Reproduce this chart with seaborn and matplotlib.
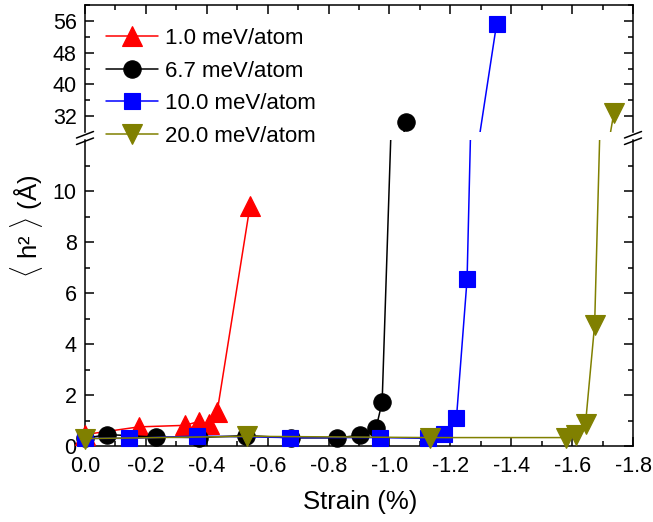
import matplotlib
matplotlib.use("Agg")
import matplotlib.pyplot as plt
import seaborn as sns
import pandas as pd
from matplotlib.lines import Line2D
from matplotlib.ticker import FixedLocator

# ---------------- data ----------------
series_labels = ["1.0 meV/atom", "6.7 meV/atom", "10.0 meV/atom", "20.0 meV/atom"]

red_x = [0.0, -0.177, -0.328, -0.374, -0.407, -0.434, -0.542]
red_y = [0.45, 0.75, 0.81, 0.96, 0.87, 1.33, 9.42]

black_x = [0.0, -0.073, -0.232, -0.374, -0.529, -0.677, -0.828, -0.904, -0.956, -0.976, -1.055]
black_y = [0.30, 0.45, 0.35, 0.33, 0.41, 0.32, 0.32, 0.42, 0.70, 1.72, 30.6]

blue_x = [0.0, -0.144, -0.368, -0.674, -0.970, -1.125, -1.180, -1.220, -1.255, -1.352]
blue_y = [0.30, 0.30, 0.39, 0.33, 0.33, 0.30, 0.49, 1.08, 6.54, 55.26]

olive_x = [0.0, -0.532, -1.134, -1.580, -1.614, -1.644, -1.674, -1.737]
olive_y = [0.29, 0.38, 0.33, 0.33, 0.45, 0.87, 4.76, 32.75]

x_ticks = [0.0, -0.2, -0.4, -0.6, -0.8, -1.0, -1.2, -1.4, -1.6, -1.8]
x_tick_labels = ["0.0", "-0.2", "-0.4", "-0.6", "-0.8", "-1.0", "-1.2", "-1.4", "-1.6", "-1.8"]
x_minor = [-0.1, -0.3, -0.5, -0.7, -0.9, -1.1, -1.3, -1.5, -1.7]
y_low_ticks = [0, 2, 4, 6, 8, 10]
y_low_minor = [1, 3, 5, 7, 9, 11]
y_high_ticks = [32, 40, 48, 56]
y_high_minor = [36, 44, 52, 60]

colors = ["#FF0000", "#000000", "#0000FF", "#808000"]
markers = ["^", "o", "s", "v"]
msizes = [15, 12.5, 11.5, 15]

# ---------------- style ----------------
sns.set_theme(style="ticks")
plt.rcParams["font.family"] = ["Liberation Sans", "DejaVu Sans"]
plt.rcParams["mathtext.fontset"] = "custom"
plt.rcParams["mathtext.rm"] = "Liberation Sans"
plt.rcParams["axes.unicode_minus"] = False
for k in ("text.color", "axes.labelcolor", "xtick.color", "ytick.color", "axes.edgecolor"):
    plt.rcParams[k] = "black"

W, H = 653, 522
fig = plt.figure(figsize=(W / 100, H / 100), dpi=100)


def fx(px):
    return px / W


def fy(py):
    return 1 - py / H


L, R = 85, 633
ax_top = fig.add_axes([fx(L), fy(132), fx(R) - fx(L), fy(5) - fy(132)])
ax_bot = fig.add_axes([fx(L), fy(446), fx(R) - fx(L), fy(140) - fy(446)])

xs = [red_x, black_x, blue_x, olive_x]
ys = [red_y, black_y, blue_y, olive_y]

low_lim = (0, 12)
high_lim = (28, 60)

for i, (x, y) in enumerate(zip(xs, ys)):
    df = pd.DataFrame({"x": x, "y": y})
    for ax, (lo, hi) in ((ax_bot, low_lim), (ax_top, high_lim)):
        sns.lineplot(data=df, x="x", y="y", ax=ax, color=colors[i], lw=1.1,
                     sort=False, estimator=None, legend=False, zorder=2 + 2 * i)
        sub = df[(df["y"] >= lo) & (df["y"] <= hi)]
        if len(sub):
            sns.lineplot(data=sub, x="x", y="y", ax=ax, color=colors[i], lw=0,
                         marker=markers[i], markersize=msizes[i],
                         markeredgecolor=colors[i], markeredgewidth=0.8,
                         markerfacecolor=colors[i],
                         sort=False, estimator=None, legend=False,
                         clip_on=False, zorder=3 + 2 * i)

for ax in (ax_top, ax_bot):
    ax.set_xlim(0, -1.8)
    ax.set_xlabel("")
    ax.set_ylabel("")
    ax.xaxis.set_major_locator(FixedLocator(x_ticks))
    ax.xaxis.set_minor_locator(FixedLocator(x_minor))
    for s in ax.spines.values():
        s.set_linewidth(1.1)
        s.set_color("black")
    ax.tick_params(which="both", direction="in", width=1.1, colors="black",
                   labelsize=15.5, right=True)
    ax.tick_params(which="major", length=6.5)
    ax.tick_params(which="minor", length=3.6)
    ax.set_facecolor("none")

ax_bot.set_ylim(*low_lim)
ax_bot.yaxis.set_major_locator(FixedLocator(y_low_ticks))
ax_bot.yaxis.set_minor_locator(FixedLocator(y_low_minor))
ax_bot.set_xticks(x_ticks, x_tick_labels)
ax_bot.spines["top"].set_visible(False)
ax_bot.tick_params(axis="x", which="both", top=False, bottom=True, pad=7)
ax_bot.tick_params(axis="y", pad=6)

ax_top.set_ylim(*high_lim)
ax_top.yaxis.set_major_locator(FixedLocator(y_high_ticks))
ax_top.yaxis.set_minor_locator(FixedLocator(y_high_minor))
ax_top.spines["bottom"].set_visible(False)
ax_top.tick_params(axis="x", which="both", top=True, bottom=False, labelbottom=False)
ax_top.tick_params(axis="y", pad=6)

# break marks on left and right spines
for cx in (L, R):
    for dy in (0, 6.5):
        fig.add_artist(Line2D([fx(cx - 8.5), fx(cx + 8.5)],
                              [fy(138 + dy), fy(131.5 + dy)],
                              transform=fig.transFigure, color="black", lw=1.1))

# labels
fig.text(fx(360), fy(509), "Strain (%)", ha="center", va="baseline", fontsize=18.5)
fig.text(fx(27), fy(226), r"$\langle$ h² $\rangle$ (Å)", ha="center", va="center",
         rotation=90, fontsize=18.5)

# legend
handles = [Line2D([], [], color=colors[i], lw=1.1, marker=markers[i], markersize=msizes[i],
                  markeredgecolor=colors[i], markerfacecolor=colors[i], markeredgewidth=0.8)
           for i in range(4)]
fig.legend(handles, series_labels, loc="upper left", bbox_to_anchor=(fx(106), fy(28)),
           bbox_transform=fig.transFigure, frameon=False, fontsize=16,
           handlelength=2.34, handletextpad=0.3, labelspacing=0.52,
           borderpad=0, borderaxespad=0)

fig.savefig("out.png", dpi=100)
